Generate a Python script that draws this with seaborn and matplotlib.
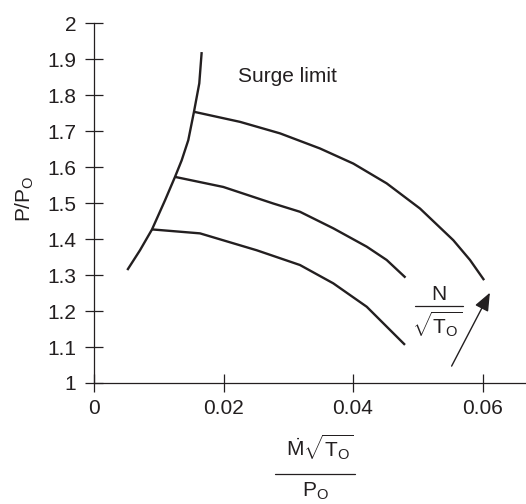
import numpy as np
import pandas as pd
import matplotlib
matplotlib.use("Agg")
import matplotlib.pyplot as plt
from matplotlib.lines import Line2D
import seaborn as sns

# ---- data ----
surge_x = [0.00514, 0.00710, 0.00896, 0.01097, 0.01251, 0.01354, 0.01456, 0.01544, 0.01626, 0.01663]
surge_y = [1.314, 1.369, 1.427, 1.508, 1.573, 1.619, 1.675, 1.754, 1.833, 1.920]

n1_x = [0.00896, 0.01637, 0.02513, 0.03181, 0.03696, 0.04212, 0.04803]
n1_y = [1.427, 1.416, 1.369, 1.328, 1.277, 1.212, 1.106]

n2_x = [0.01251, 0.01997, 0.02769, 0.03181, 0.03696, 0.04212, 0.04520, 0.04811]
n2_y = [1.573, 1.545, 1.499, 1.476, 1.430, 1.379, 1.342, 1.293]

n3_x = [0.01544, 0.02255, 0.02873, 0.03490, 0.04005, 0.04520, 0.05035, 0.05549, 0.05807, 0.06025]
n3_y = [1.754, 1.726, 1.694, 1.652, 1.610, 1.555, 1.485, 1.397, 1.342, 1.286]

arrow_start = (0.05523, 1.047)
arrow_end = (0.06114, 1.251)

x_ticks = [0, 0.02, 0.04, 0.06]
x_tick_labels = ["0", "0.02", "0.04", "0.06"]
y_ticks = [1.0, 1.1, 1.2, 1.3, 1.4, 1.5, 1.6, 1.7, 1.8, 1.9, 2.0]
y_tick_labels = ["1", "1.1", "1.2", "1.3", "1.4", "1.5", "1.6", "1.7", "1.8", "1.9", "2"]

# ---- style ----
sns.set_theme(style="white")
plt.rcParams["font.family"] = ["Liberation Sans", "DejaVu Sans"]
plt.rcParams["mathtext.fontset"] = "custom"
plt.rcParams["mathtext.rm"] = "Liberation Sans"
plt.rcParams["mathtext.it"] = "Liberation Sans"
plt.rcParams["mathtext.bf"] = "Liberation Sans:bold"

INK = "#231f20"
W, H = 526, 504
FS = 15

fig = plt.figure(figsize=(W / 100, H / 100), dpi=100)
ax = fig.add_axes([94 / W, 121 / H, 432 / W, 359.7 / H])

for xs, ys in [(surge_x, surge_y), (n1_x, n1_y), (n2_x, n2_y), (n3_x, n3_y)]:
    df = pd.DataFrame({"x": xs, "y": ys})
    sns.lineplot(data=df, x="x", y="y", ax=ax, color=INK, lw=1.7,
                 sort=False, estimator=None, solid_capstyle="butt",
                 solid_joinstyle="round")

ax.set_xlim(0, 432 / 6475)
ax.set_ylim(1, 2)
ax.set_xticks(x_ticks)
ax.set_xticklabels(x_tick_labels)
ax.set_yticks(y_ticks)
ax.set_yticklabels(y_tick_labels)
ax.set_xlabel("")
ax.set_ylabel("")

for s in ["top", "right"]:
    ax.spines[s].set_visible(False)
for s in ["left", "bottom"]:
    ax.spines[s].set_color(INK)
    ax.spines[s].set_linewidth(0.9)
ax.tick_params(axis="both", which="major", bottom=True, left=True,
               direction="inout", length=13.5, width=0.9,
               color=INK, labelcolor=INK, labelsize=FS, pad=6.0)
ax.tick_params(axis="x", pad=5.0)
ax.patch.set_alpha(0)

# arrow
ax.annotate("", xy=arrow_end, xytext=arrow_start,
            arrowprops=dict(arrowstyle="-|>,head_length=1.1,head_width=0.45",
                            mutation_scale=10, lw=1.0, color=INK,
                            shrinkA=0, shrinkB=0))

def fx(px):
    return px / W

def fy(py):
    return 1 - py / H

# Surge limit text
fig.text(fx(238.3), fy(81.7), "Surge limit", fontsize=FS, color=INK,
         ha="left", va="baseline")

# y label
fig.text(fx(25), fy(199), r"P/P$_\mathrm{O}$", fontsize=FS, color=INK,
         rotation=90, ha="center", va="center")

# N / sqrt(T_O) label
fig.text(fx(439), fy(300), "N", fontsize=FS, color=INK, ha="center", va="baseline")
fig.add_artist(Line2D([fx(415), fx(463.3)], [fy(305.7), fy(305.7)],
                      transform=fig.transFigure, color=INK, lw=0.9))
fig.text(fx(437), fy(333), r"$\sqrt{\mathrm{T}_\mathrm{O}}$", fontsize=FS, color=INK,
         ha="center", va="baseline")

# x label as a fraction
fig.text(fx(320), fy(456), r"$\dot{\mathrm{M}}\sqrt{\mathrm{T}_\mathrm{O}}$", fontsize=FS,
         color=INK, ha="center", va="baseline")
fig.add_artist(Line2D([fx(275), fx(355)], [fy(474), fy(474)],
                      transform=fig.transFigure, color=INK, lw=0.9))
fig.text(fx(315), fy(497), r"P$_\mathrm{O}$", fontsize=FS, color=INK,
         ha="center", va="baseline")

fig.savefig("out.png", dpi=100, facecolor="white")
